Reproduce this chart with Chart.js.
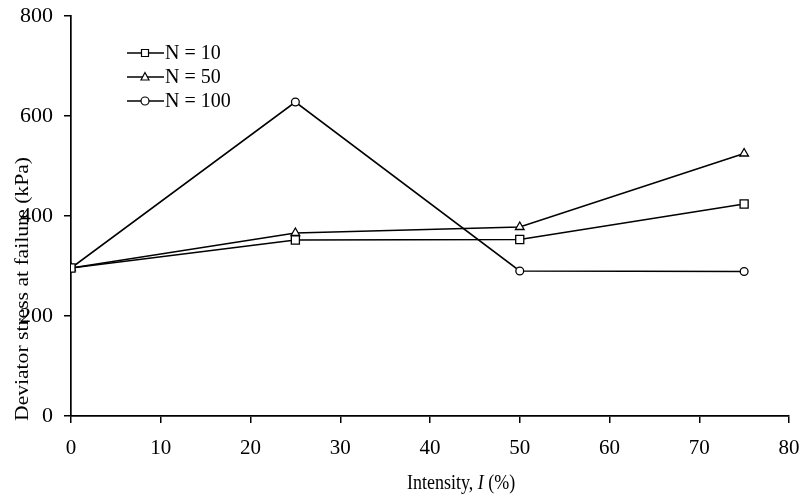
<!DOCTYPE html>
<html>
<head>
<meta charset="utf-8">
<script src="https://cdn.jsdelivr.net/npm/chart.js@4/dist/chart.umd.min.js"></script>
<style>
  html, body { margin: 0; padding: 0; background: #fff; }
  #wrap { width: 805px; height: 498px; }
</style>
</head>
<body>
<div id="wrap"><canvas id="chart" width="805" height="498"></canvas></div>
<script>
// data
var intensity = [0, 25, 50, 75];
var n10 = [296, 352, 353, 424];
var n50 = [296, 366, 378, 525];
var n100 = [296, 628, 290, 289];
var seriesNames = ["N = 10", "N = 50", "N = 100"];
var xTicks = [0, 10, 20, 30, 40, 50, 60, 70, 80];
var yTicks = [0, 200, 400, 600, 800];

var FONT = "'Liberation Serif', 'Times New Roman', serif";

function pts(vals) {
    return intensity.map(function (x, i) { return {x: x, y: vals[i]}; });
}

function series(label, vals, style, r) {
    return {
        label: label,
        data: pts(vals),
        borderColor: "#000",
        borderWidth: 1.6,
        tension: 0,
        fill: false,
        pointStyle: style,
        pointRadius: r,
        pointHoverRadius: r,
        pointBackgroundColor: "#fff",
        pointBorderColor: "#000",
        pointBorderWidth: 1.3
    };
}

// marker for the hand drawn legend
function marker(ctx, style, x, y) {
    ctx.save();
    ctx.fillStyle = "#fff";
    ctx.strokeStyle = "#000";
    ctx.lineWidth = 1.2;
    ctx.beginPath();
    if (style === "rect") {
        ctx.rect(x - 3.5, y - 3.5, 7, 7);
    } else if (style === "triangle") {
        ctx.moveTo(x, y - 4.5);
        ctx.lineTo(x + 4, y + 3);
        ctx.lineTo(x - 4, y + 3);
        ctx.closePath();
    } else {
        ctx.arc(x, y, 4, 0, Math.PI * 2);
    }
    ctx.fill();
    ctx.stroke();
    ctx.restore();
}

var extras = {
    id: "extras",
    afterDraw: function (chart) {
        var ctx = chart.ctx;
        ctx.save();
        ctx.fillStyle = "#000";

        // y axis title (sits over the tick labels like the original), stretched a bit
        ctx.save();
        ctx.translate(23, 289);
        ctx.rotate(-Math.PI / 2);
        ctx.scale(1.2, 1.05);
        ctx.font = "18px " + FONT;
        ctx.textAlign = "center";
        ctx.textBaseline = "middle";
        ctx.fillText("Deviator stress at failure (kPa)", 0, 0);
        ctx.restore();

        // x axis title with italic I
        ctx.save();
        ctx.translate(0, 489);
        ctx.scale(1, 1.2);
        ctx.textBaseline = "alphabetic";
        ctx.textAlign = "left";
        var parts = [["Intensity, ", "18px "], ["I", "italic 18px "], [" (%)", "18px "]];
        var x = 407;
        parts.forEach(function (p) {
            ctx.font = p[1] + FONT;
            ctx.fillText(p[0], x, 0);
            x += ctx.measureText(p[0]).width;
        });
        ctx.restore();

        // legend
        var styles = ["rect", "triangle", "circle"];
        var rows = [53, 77, 101];
        ctx.font = "20px " + FONT;
        ctx.textBaseline = "middle";
        for (var i = 0; i < 3; i++) {
            ctx.strokeStyle = "#000";
            ctx.lineWidth = 1.5;
            ctx.beginPath();
            ctx.moveTo(127, rows[i]);
            ctx.lineTo(164, rows[i]);
            ctx.stroke();
            marker(ctx, styles[i], 145, rows[i]);
            ctx.fillText(seriesNames[i], 165, rows[i] + 1);
        }
        ctx.restore();
    }
};

var ctx1 = document.getElementById("chart").getContext("2d");
var myChart = new Chart(ctx1, {
    type: "line",
    data: {
        datasets: [
            series(seriesNames[0], n10, "rect", 5.7),
            series(seriesNames[1], n50, "triangle", 5),
            series(seriesNames[2], n100, "circle", 3.9)
        ]
    },
    options: {
        responsive: false,
        animation: false,
        layout: { padding: { top: 16, right: 16, left: 0, bottom: 0 } },
        plugins: { legend: { display: false }, tooltip: { enabled: false } },
        scales: {
            x: {
                type: "linear",
                min: 0,
                max: 80,
                afterFit: function (s) {
                    s.height = 82;
                    s.paddingLeft = 0;
                    s.paddingRight = 0;
                },
                afterBuildTicks: function (s) { s.ticks = xTicks.map(function (v) { return {value: v}; }); },
                border: { color: "#000", width: 1.7 },
                grid: { drawOnChartArea: false, drawTicks: true, tickLength: 7, color: "#000", lineWidth: 1.5 },
                ticks: { color: "#000", font: { family: FONT, size: 21 }, padding: 13, maxRotation: 0 },
                title: { display: false }
            },
            y: {
                min: 0,
                max: 800,
                afterFit: function (s) {
                    s.width = 71;
                    s.paddingTop = 0;
                    s.paddingBottom = 0;
                },
                afterBuildTicks: function (s) { s.ticks = yTicks.map(function (v) { return {value: v}; }); },
                border: { color: "#000", width: 1.7 },
                grid: { drawOnChartArea: false, drawTicks: true, tickLength: 7, color: "#000", lineWidth: 1.5 },
                ticks: { color: "#000", font: { family: FONT, size: 22 }, padding: 11 },
                title: { display: false }
            }
        }
    },
    plugins: [extras]
});
</script>
</body>
</html>
